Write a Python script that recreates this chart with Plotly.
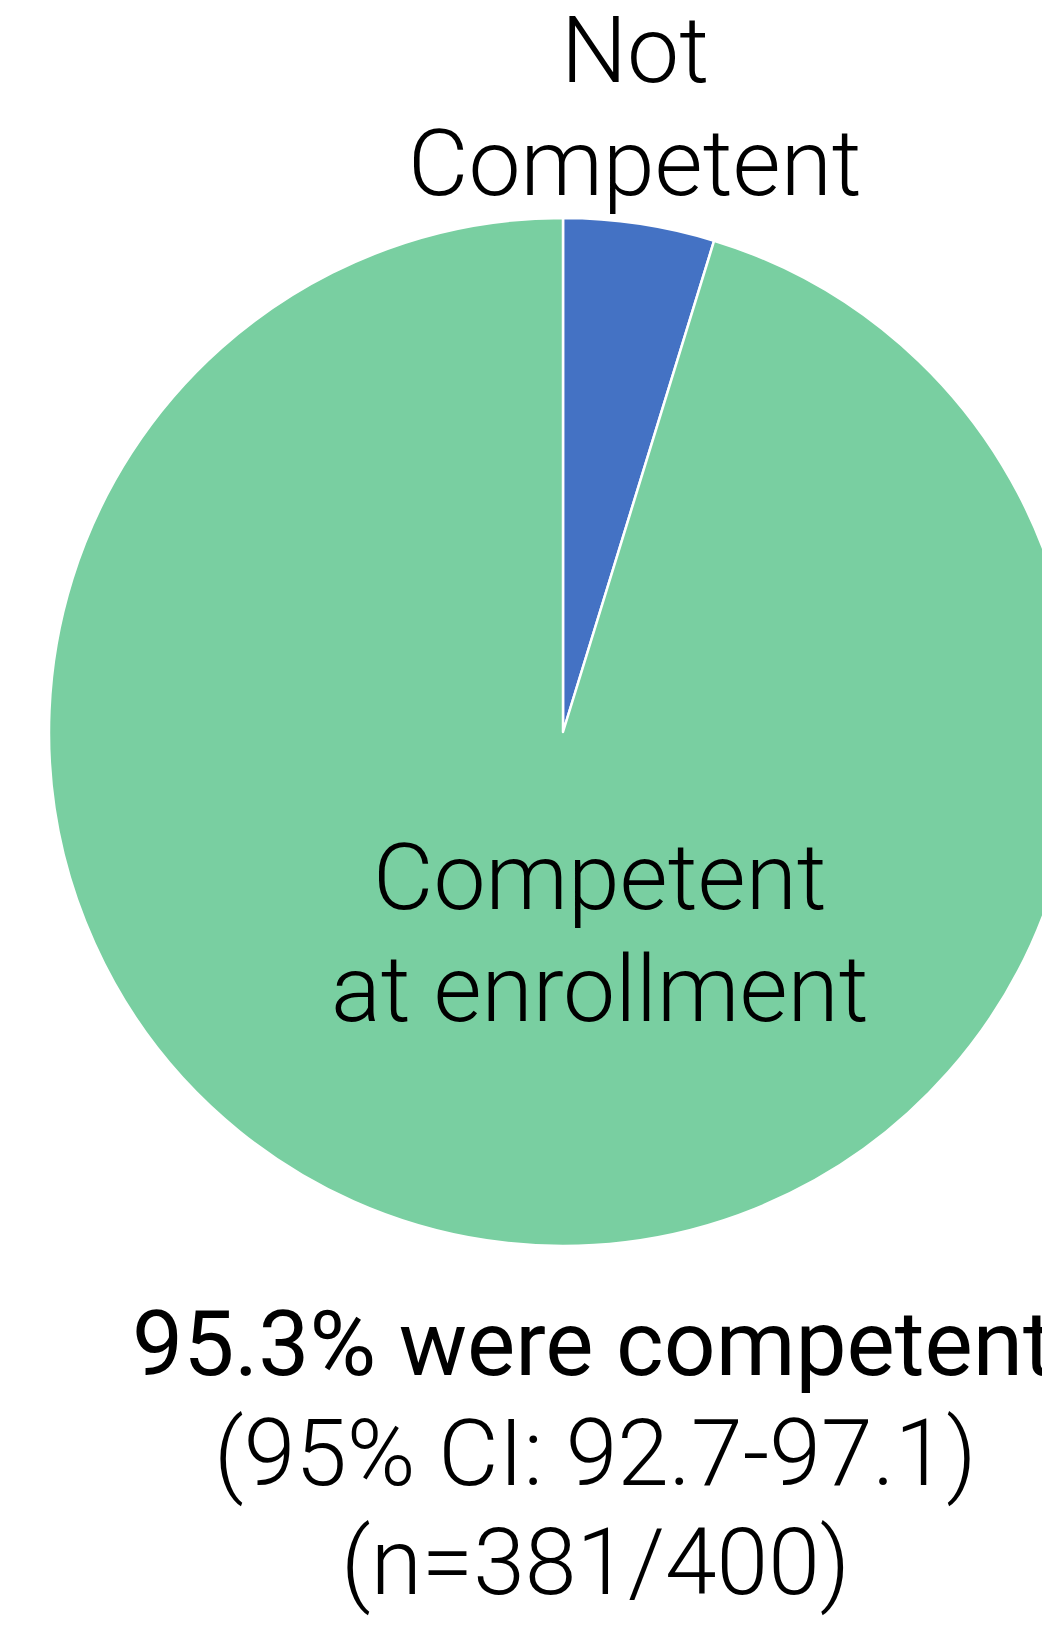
from decimal import Decimal, ROUND_HALF_UP

import plotly.graph_objects as go

# Competence at enrollment
categories = ["Not Competent", "Competent at enrollment"]
counts = [19, 381]
colors = ["#4472C4", "#79CFA1"]
ci_low, ci_high = 92.7, 97.1

total = sum(counts)
competent = counts[1]
pct = (Decimal(100) * competent / total).quantize(Decimal("0.1"), rounding=ROUND_HALF_UP)

W, H = 1120, 1625  # canvas is wider than the viewport; the right side is cropped

fig = go.Figure(
    go.Pie(
        labels=categories,
        values=counts,
        sort=False,
        direction="clockwise",
        rotation=0,
        marker=dict(colors=colors, line=dict(color="white", width=2.5)),
        textinfo="none",
        hoverinfo="label+value+percent",
        showlegend=False,
        domain=dict(x=[49 / W, 1077 / W], y=[(H - 732 - 514) / H, (H - 732 + 514) / H]),
    )
)


def line(text, cx, cy, size=93, weight=300):
    """Single text line centred at pixel (cx, cy) measured from the top-left."""
    return dict(
        text=text,
        x=cx / W,
        y=1 - cy / H,
        xref="paper",
        yref="paper",
        xanchor="center",
        yanchor="middle",
        showarrow=False,
        font=dict(family="Roboto", size=size, color="black", weight=weight),
    )


annotations = []
# outside label for the small slice
for i, word in enumerate(categories[0].split(" ")):
    annotations.append(line(word, 635, 50 + i * 114))
# inside label for the large slice
for i, part in enumerate(["Competent", "at enrollment"]):
    annotations.append(line(part, 600, 878 + i * 111))
# summary below the pie
annotations.append(line(f"{pct}% were competent", 592, 1344, size=91, weight=400))
annotations.append(line(f"(95% CI: {ci_low}-{ci_high})", 595, 1453))
annotations.append(line(f"(n={competent}/{total})", 595, 1562))

fig.update_layout(
    width=W,
    height=H,
    margin=dict(l=0, r=0, t=0, b=0),
    paper_bgcolor="white",
    plot_bgcolor="white",
    annotations=annotations,
)

fig.write_html(
    "out.html",
    post_script="document.documentElement.style.overflow='hidden';document.body.style.overflow='hidden';document.body.style.margin='0';",
)
